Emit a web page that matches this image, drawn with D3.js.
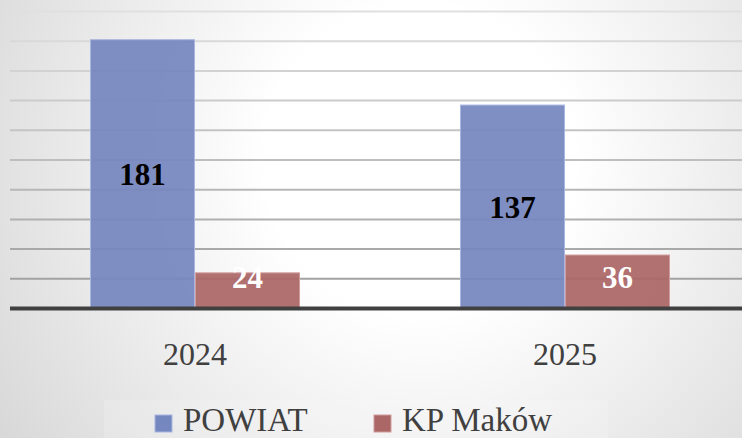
<!DOCTYPE html>
<html>
<head>
<meta charset="utf-8">
<script src="https://cdn.jsdelivr.net/npm/d3@7"></script>
<style>
  html, body { margin: 0; padding: 0; overflow: hidden; }
  svg { display: block; }
</style>
</head>
<body>
<svg id="chart" width="742" height="438"></svg>
<script>
const categories = ["2024", "2025"];
const seriesNames = ["POWIAT", "KP Maków"];
const powiatValues = [181, 137];
const kpMakowValues = [24, 36];
const yTicks = [0, 20, 40, 60, 80, 100, 120, 140, 160, 180, 200];

const W = 742, H = 438;
const svg = d3.select("#chart");
const defs = svg.append("defs");

const bg = defs.append("radialGradient").attr("id", "bg")
  .attr("gradientUnits", "userSpaceOnUse")
  .attr("cx", 420).attr("cy", 160).attr("r", 520);
bg.append("stop").attr("offset", "0%").attr("stop-color", "#ffffff");
bg.append("stop").attr("offset", "30%").attr("stop-color", "#ffffff");
bg.append("stop").attr("offset", "100%").attr("stop-color", "#d6d6d6");
svg.append("rect").attr("width", W).attr("height", H).attr("fill", "url(#bg)");

const y = d3.scaleLinear().domain([0, 200]).range([308.5, 11.5]);
const x = d3.scaleBand().domain(categories).range([10, 750]).padding(0);
const xs = d3.scaleBand().domain(seriesNames).range([0, 210]).padding(0);
const colors = { "POWIAT": "#7587bf", "KP Maków": "#ab6666" };
const strokes = { "POWIAT": "#a9b6e0", "KP Maków": "#d09c9c" };

// gridlines
const gridColor = d3.interpolateRgb("#e0e0e0", "#a2a2a2");
svg.append("g").selectAll("line")
  .data(yTicks.filter(d => d > 0))
  .join("line")
  .attr("x1", 10).attr("x2", W)
  .attr("y1", d => y(d)).attr("y2", d => y(d))
  .attr("stroke", d => gridColor(1 - (d - 20) / 180))
  .attr("stroke-width", 2);

const rows = [];
categories.forEach((c, i) => {
  rows.push({ cat: c, s: "POWIAT", v: powiatValues[i] });
  rows.push({ cat: c, s: "KP Maków", v: kpMakowValues[i] });
});

const bx = d => x(d.cat) + x.bandwidth() / 2 - 105 + xs(d.s);

svg.append("g").selectAll("rect")
  .data(rows).join("rect")
  .attr("x", d => bx(d) + 0.5)
  .attr("width", xs.bandwidth() - 1)
  .attr("y", d => y(d.v))
  .attr("height", d => y(0) - y(d.v))
  .attr("fill", d => colors[d.s])
  .attr("fill-opacity", 0.93)
  .attr("stroke", d => strokes[d.s])
  .attr("stroke-width", 1);

// axis line
svg.append("line")
  .attr("x1", 10).attr("x2", W)
  .attr("y1", y(0)).attr("y2", y(0))
  .attr("stroke", "#404040").attr("stroke-width", 4);

// data labels
svg.append("g").selectAll("text")
  .data(rows).join("text")
  .attr("x", d => bx(d) + xs.bandwidth() / 2)
  .attr("y", d => Math.min((y(d.v) + y(0)) / 2, y(0) - 31.5))
  .attr("dy", "0.35em")
  .attr("text-anchor", "middle")
  .attr("font-family", "'Liberation Serif', serif")
  .attr("font-weight", "bold")
  .attr("font-size", 31)
  .attr("fill", d => d.s === "POWIAT" ? "#000000" : "#ffffff")
  .text(d => d.v);

// x axis labels
svg.append("g").selectAll("text")
  .data(categories).join("text")
  .attr("x", d => x(d) + x.bandwidth() / 2)
  .attr("y", 365)
  .attr("text-anchor", "middle")
  .attr("font-family", "'Liberation Serif', serif")
  .attr("font-size", 32)
  .attr("fill", "#404040")
  .text(d => d);

// legend
svg.append("rect").attr("x", 104).attr("y", 400).attr("width", 504).attr("height", 40)
  .attr("fill", "#ffffff").attr("fill-opacity", 0.15);
const legendX = { "POWIAT": 155, "KP Maków": 374 };
const lg = svg.append("g").selectAll("g").data(seriesNames).join("g")
  .attr("transform", d => `translate(${legendX[d]},0)`);
lg.append("rect").attr("x", 0).attr("y", 415).attr("width", 17).attr("height", 17)
  .attr("fill", d => colors[d]).attr("stroke", d => strokes[d]).attr("stroke-width", 1);
lg.append("text").attr("x", 28).attr("y", 431)
  .attr("font-family", "'Liberation Serif', serif")
  .attr("font-size", 33)
  .attr("fill", "#404040")
  .text(d => d);
</script>
</body>
</html>
